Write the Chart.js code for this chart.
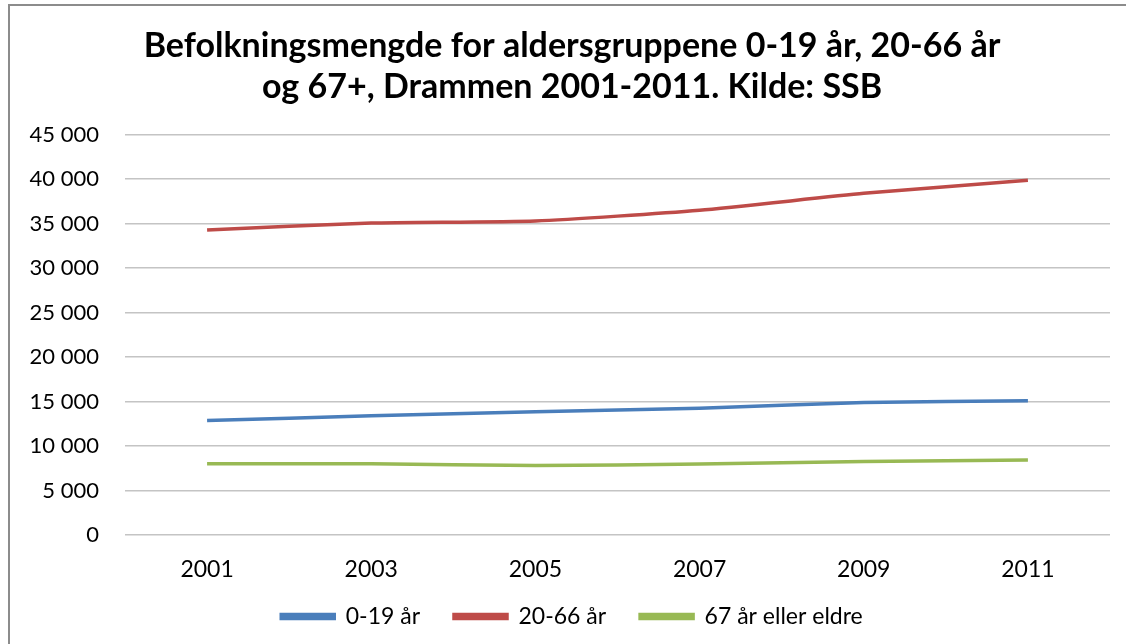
<!DOCTYPE html>
<html>
<head>
<meta charset="utf-8">
<script src="https://cdn.jsdelivr.net/npm/chart.js@4.4.1/dist/chart.umd.min.js"></script>
<style>
  html, body { margin: 0; padding: 0; background: #fff; }
  #wrap { position: relative; width: 1126px; height: 644px; }
</style>
</head>
<body>
<div id="wrap"><canvas id="c" width="1126" height="644"></canvas></div>
<script>
const years = ['2001', '2003', '2005', '2007', '2009', '2011'];
const age0to19 = [12860, 13400, 13840, 14250, 14900, 15100];
const age20to66 = [34280, 35060, 35300, 36500, 38400, 39860];
const age67plus = [8000, 8000, 7800, 7990, 8250, 8420];
const seriesNames = ['0-19 år', '20-66 år', '67 år eller eldre'];
const titleLines = ['Befolkningsmengde for aldersgruppene 0-19 år, 20-66 år', 'og 67+, Drammen 2001-2011. Kilde: SSB'];
const yMin = 0, yMax = 45000, yStep = 5000;

function fmt(v) {
  return String(v).replace(/\B(?=(\d{3})+(?!\d))/g, ' ');
}

const frame = {
  id: 'frame',
  beforeDraw(chart) {
    const ctx = chart.ctx;
    ctx.save();
    ctx.fillStyle = '#ffffff';
    ctx.fillRect(0, 0, chart.width, chart.height);
    ctx.strokeStyle = '#8c8c8c';
    ctx.lineWidth = 2;
    ctx.beginPath();
    ctx.moveTo(9, chart.height);
    ctx.lineTo(9, 5);
    ctx.lineTo(chart.width, 5);
    ctx.stroke();
    ctx.restore();
  },
  afterLayout(chart) {
    // widen the label clip boxes so tick labels are not cut off
    chart.scales.x.bottom = chart.height;
    chart.scales.y.left = 0;
  }
};

new Chart(document.getElementById('c'), {
  type: 'line',
  data: {
    labels: years,
    datasets: [
      { label: seriesNames[0], data: age0to19, borderColor: '#4a7ebb', backgroundColor: '#4a7ebb' },
      { label: seriesNames[1], data: age20to66, borderColor: '#be4b48', backgroundColor: '#be4b48' },
      { label: seriesNames[2], data: age67plus, borderColor: '#98b954', backgroundColor: '#98b954' }
    ].map(d => Object.assign(d, { borderWidth: 3.5, pointRadius: 0, tension: 0.2, fill: false }))
  },
  options: {
    responsive: false,
    animation: false,
    layout: { padding: { left: 34, right: 16, top: 0, bottom: 6 } },
    plugins: {
      tooltip: { enabled: false },
      title: {
        display: true,
        text: titleLines,
        color: '#000',
        font: { family: 'Lato', size: 34, weight: 'bold', lineHeight: 1.2 },
        padding: { top: 26, bottom: 27 }
      },
      legend: {
        position: 'bottom',
        labels: {
          color: '#000',
          font: { family: 'Lato', size: 23 },
          boxWidth: 53,
          boxHeight: 4,
          padding: 34
        }
      }
    },
    scales: {
      x: {
        offset: true,
        grid: { display: false, drawTicks: false },
        border: { display: false },
        ticks: { color: '#000', font: { family: 'Lato', size: 23 }, padding: 21, maxRotation: 0 },
        afterFit(s) { s.height = 36; }
      },
      y: {
        min: yMin, max: yMax,
        grid: { color: '#c4c4c4', lineWidth: 1.5, drawTicks: false },
        border: { display: false },
        ticks: { stepSize: yStep, color: '#000', font: { family: 'Lato', size: 22 }, padding: 26, callback: v => fmt(v) },
        afterFit(s) { s.width = 91; }
      }
    }
  },
  plugins: [frame]
});
</script>
</body>
</html>
